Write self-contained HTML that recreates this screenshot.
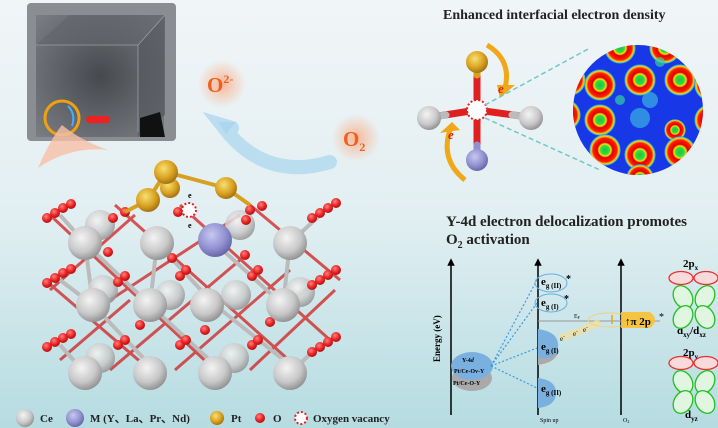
<!DOCTYPE html>
<html><head><meta charset="utf-8"><style>
html,body{margin:0;padding:0;width:718px;height:428px;overflow:hidden}
svg{display:block}
text{font-family:"Liberation Serif",serif}
</style></head><body>
<svg width="718" height="428" viewBox="0 0 718 428" xmlns="http://www.w3.org/2000/svg">
<defs>
<linearGradient id="bg" x1="0" y1="0" x2="0" y2="1">
<stop offset="0" stop-color="#f1f5f7"/><stop offset="0.5" stop-color="#e2eff2"/><stop offset="1" stop-color="#b5dce1"/></linearGradient>
<radialGradient id="ce" cx="0.4" cy="0.35" r="0.7"><stop offset="0" stop-color="#f4f4f4"/><stop offset="0.6" stop-color="#c8c8c8"/><stop offset="1" stop-color="#8a8a8a"/></radialGradient>
<radialGradient id="m" cx="0.4" cy="0.35" r="0.7"><stop offset="0" stop-color="#c8c8f0"/><stop offset="0.6" stop-color="#9090d0"/><stop offset="1" stop-color="#6060a0"/></radialGradient>
<radialGradient id="pt" cx="0.4" cy="0.35" r="0.7"><stop offset="0" stop-color="#f8e070"/><stop offset="0.6" stop-color="#d8a020"/><stop offset="1" stop-color="#9a6a10"/></radialGradient>
<radialGradient id="o" cx="0.4" cy="0.35" r="0.7"><stop offset="0" stop-color="#ff8080"/><stop offset="0.6" stop-color="#e82020"/><stop offset="1" stop-color="#a01010"/></radialGradient>
<radialGradient id="glow" cx="0.5" cy="0.5" r="0.5"><stop offset="0" stop-color="#f8b898"/><stop offset="1" stop-color="#f8b898" stop-opacity="0"/></radialGradient>
<radialGradient id="tem" cx="0.5" cy="0.5" r="0.7"><stop offset="0" stop-color="#46494e"/><stop offset="1" stop-color="#7a7e83"/></radialGradient>
<radialGradient id="ring" cx="0.5" cy="0.5" r="0.5"><stop offset="0" stop-color="#20c040"/><stop offset="0.28" stop-color="#30e040"/><stop offset="0.38" stop-color="#ffe000"/><stop offset="0.48" stop-color="#e00000"/><stop offset="0.75" stop-color="#ff2000"/><stop offset="0.85" stop-color="#ffd000"/><stop offset="0.95" stop-color="#30c0e0"/><stop offset="1" stop-color="#1030e0" stop-opacity="0"/></radialGradient>
<clipPath id="cc"><circle cx="638" cy="110" r="65"/></clipPath>
<marker id="ah" viewBox="0 0 10 10" refX="5" refY="5" markerWidth="5" markerHeight="5" orient="auto"><path d="M0,0L10,5L0,10z" fill="#000"/></marker>
</defs>
<rect width="718" height="428" fill="url(#bg)"/>

<!-- TEM image -->
<rect x="27" y="3" width="149" height="138" rx="4" fill="#8a8e92"/>
<rect x="36" y="15" width="128" height="122" fill="url(#tem)"/>
<polygon points="36,45 70,15 165,15 138,45" fill="#60646a" opacity="0.6"/>
<polygon points="138,45 165,15 165,115 138,137" fill="#55595e" opacity="0.7"/>
<polyline points="36,45 138,45 138,132" fill="none" stroke="#9a9ea2" stroke-width="0.8"/>
<polyline points="138,45 165,15" fill="none" stroke="#9a9ea2" stroke-width="0.8"/>
<polygon points="140,118 160,112 165,137 140,137" fill="#111"/>
<circle cx="62" cy="118" r="17" fill="none" stroke="#f0a010" stroke-width="3"/>
<path d="M68,106 Q76,114 72,126" fill="none" stroke="#40b0ff" stroke-width="2"/>
<rect x="86" y="116" width="24" height="7" rx="3.5" fill="#f02020"/>
<path d="M38,168 Q50,140 62,125 Q80,140 108,150 Q70,146 38,168z" fill="#f8c0a8" opacity="0.8"/>

<!-- glows -->
<circle cx="222" cy="84" r="24" fill="url(#glow)"/>
<text x="207" y="92" font-size="21" fill="#f06020" font-weight="bold">O<tspan font-size="12" dy="-9">2-</tspan></text>
<circle cx="356" cy="138" r="24" fill="url(#glow)"/>
<text x="343" y="146" font-size="21" fill="#f06020" font-weight="bold">O<tspan font-size="12" dy="5">2</tspan></text>
<path d="M330,162 Q270,180 230,135 L222,125 L232,128" fill="none" stroke="#a8d4ee" stroke-width="14" stroke-linecap="round" opacity="0.7"/>
<polygon points="218,122 236,122 226,134" fill="#a8d4ee" opacity="0.8"/>

<!-- lattice bonds -->
<g stroke="#d02020" stroke-width="3" opacity="0.75">
<line x1="50" y1="215" x2="215" y2="370"/><line x1="115" y1="205" x2="300" y2="370"/><line x1="180" y1="205" x2="330" y2="340"/>
<line x1="45" y1="280" x2="150" y2="370"/><line x1="250" y1="205" x2="340" y2="280"/>
<line x1="60" y1="360" x2="130" y2="300"/><line x1="110" y1="370" x2="240" y2="260"/><line x1="175" y1="370" x2="290" y2="270"/><line x1="250" y1="370" x2="335" y2="290"/>
<line x1="50" y1="290" x2="135" y2="215"/><line x1="110" y1="300" x2="240" y2="215"/>
</g>
<g stroke="#bbb" stroke-width="4">
<line x1="85" y1="243" x2="150" y2="305"/><line x1="157" y1="243" x2="215" y2="305"/><line x1="215" y1="243" x2="283" y2="305"/>
<line x1="93" y1="305" x2="150" y2="365"/><line x1="150" y1="305" x2="215" y2="365"/><line x1="215" y1="305" x2="290" y2="365"/>
<line x1="85" y1="243" x2="60" y2="215"/><line x1="290" y1="243" x2="320" y2="215"/><line x1="93" y1="305" x2="60" y2="280"/><line x1="283" y1="305" x2="320" y2="280"/>
<line x1="85" y1="373" x2="60" y2="345"/><line x1="290" y1="373" x2="320" y2="345"/>
<line x1="93" y1="305" x2="85" y2="243"/><line x1="150" y1="305" x2="157" y2="243"/><line x1="283" y1="305" x2="290" y2="243"/>
</g>
<!-- back Ce -->
<g fill="url(#ce)" opacity="0.85">
<circle cx="100" cy="225" r="15"/><circle cx="240" cy="225" r="15"/><circle cx="103" cy="290" r="15"/><circle cx="170" cy="295" r="15"/><circle cx="236" cy="295" r="15"/><circle cx="300" cy="292" r="15"/>
<circle cx="100" cy="358" r="15"/><circle cx="234" cy="358" r="15"/>
</g>
<!-- O atoms -->
<g fill="url(#o)">
<circle cx="47" cy="218" r="5"/><circle cx="55" cy="213" r="5"/><circle cx="63" cy="208" r="5"/><circle cx="71" cy="204" r="5"/>
<circle cx="47" cy="283" r="5"/><circle cx="55" cy="278" r="5"/><circle cx="63" cy="273" r="5"/><circle cx="71" cy="269" r="5"/>
<circle cx="47" cy="347" r="5"/><circle cx="55" cy="342" r="5"/><circle cx="63" cy="338" r="5"/><circle cx="71" cy="334" r="5"/>
<circle cx="312" cy="218" r="5"/><circle cx="320" cy="213" r="5"/><circle cx="328" cy="208" r="5"/><circle cx="336" cy="203" r="5"/>
<circle cx="312" cy="285" r="5"/><circle cx="320" cy="280" r="5"/><circle cx="328" cy="275" r="5"/><circle cx="336" cy="270" r="5"/>
<circle cx="312" cy="352" r="5"/><circle cx="320" cy="347" r="5"/><circle cx="328" cy="342" r="5"/><circle cx="336" cy="337" r="5"/>
<circle cx="113" cy="218" r="5"/><circle cx="125" cy="212" r="5"/><circle cx="178" cy="212" r="5"/><circle cx="250" cy="210" r="5"/><circle cx="262" cy="206" r="5"/><circle cx="246" cy="220" r="5"/>
<circle cx="118" cy="282" r="5"/><circle cx="125" cy="276" r="5"/><circle cx="180" cy="276" r="5"/><circle cx="186" cy="270" r="5"/><circle cx="252" cy="276" r="5"/><circle cx="258" cy="270" r="5"/>
<circle cx="118" cy="345" r="5"/><circle cx="125" cy="340" r="5"/><circle cx="180" cy="345" r="5"/><circle cx="186" cy="340" r="5"/><circle cx="252" cy="345" r="5"/><circle cx="258" cy="340" r="5"/>
<circle cx="108" cy="252" r="5"/><circle cx="172" cy="258" r="5"/><circle cx="245" cy="255" r="5"/><circle cx="140" cy="325" r="5"/><circle cx="205" cy="330" r="5"/><circle cx="270" cy="322" r="5"/>
</g>
<!-- front Ce -->
<g fill="url(#ce)">
<circle cx="85" cy="243" r="17"/><circle cx="157" cy="243" r="17"/><circle cx="290" cy="243" r="17"/>
<circle cx="93" cy="305" r="17"/><circle cx="150" cy="305" r="17"/><circle cx="207" cy="305" r="17"/><circle cx="283" cy="305" r="17"/>
<circle cx="85" cy="373" r="17"/><circle cx="150" cy="373" r="17"/><circle cx="215" cy="373" r="17"/><circle cx="290" cy="373" r="17"/>
</g>
<circle cx="215" cy="240" r="17" fill="url(#m)"/>
<!-- Pt cluster -->
<g stroke="#d8a020" stroke-width="4"><line x1="166" y1="172" x2="226" y2="188"/><line x1="148" y1="200" x2="166" y2="172"/><line x1="226" y1="188" x2="250" y2="205"/><line x1="148" y1="200" x2="125" y2="212"/></g>
<circle cx="170" cy="188" r="10" fill="url(#pt)"/>
<circle cx="166" cy="172" r="12" fill="url(#pt)"/>
<circle cx="226" cy="188" r="11" fill="url(#pt)"/>
<circle cx="148" cy="200" r="12" fill="url(#pt)"/>
<circle cx="189" cy="210" r="7" fill="#fff" stroke="#e02020" stroke-width="2" stroke-dasharray="2 2"/>
<text x="188" y="198" font-size="8" font-weight="bold">e</text>
<text x="188" y="228" font-size="8" font-weight="bold">e</text>

<!-- legend -->
<g font-size="11" font-weight="bold" fill="#222">
<circle cx="25" cy="418" r="9" fill="url(#ce)"/><text x="40" y="422">Ce</text>
<circle cx="75" cy="418" r="9" fill="url(#m)"/><text x="90" y="422">M (Y、La、Pr、Nd)</text>
<circle cx="217" cy="418" r="7" fill="url(#pt)"/><text x="231" y="422">Pt</text>
<circle cx="260" cy="418" r="5" fill="url(#o)"/><text x="273" y="422">O</text>
<circle cx="301" cy="418" r="6" fill="#fff" stroke="#e02020" stroke-width="2" stroke-dasharray="2 2"/><text x="313" y="422">Oxygen vacancy</text>
</g>

<!-- top right -->
<text x="443" y="19" font-size="14" font-weight="bold" fill="#222">Enhanced interfacial electron density</text>
<g stroke-width="7" stroke-linecap="round">
<line x1="477" y1="110" x2="477" y2="63" stroke="#e02020"/><line x1="477" y1="110" x2="477" y2="160" stroke="#e02020"/>
<line x1="477" y1="110" x2="432" y2="117" stroke="#e02020"/><line x1="477" y1="110" x2="528" y2="117" stroke="#e02020"/>
<line x1="477" y1="75" x2="477" y2="62" stroke="#d8a020"/><line x1="477" y1="145" x2="477" y2="158" stroke="#9090d0"/>
<line x1="446" y1="115" x2="432" y2="117" stroke="#bbb"/><line x1="512" y1="115" x2="528" y2="117" stroke="#bbb"/>
</g>
<circle cx="477" cy="62" r="11" fill="url(#pt)"/>
<circle cx="477" cy="160" r="11" fill="url(#m)"/>
<circle cx="429" cy="118" r="12" fill="url(#ce)"/>
<circle cx="531" cy="118" r="12" fill="url(#ce)"/>
<circle cx="477" cy="110" r="10" fill="#fff" stroke="#e02020" stroke-width="2" stroke-dasharray="2 2"/>
<path d="M487,45 Q512,60 505,88" fill="none" stroke="#f0a818" stroke-width="5"/>
<polygon points="497,85 515,85 500,98" fill="#f0a818"/>
<path d="M465,180 Q440,160 450,130" fill="none" stroke="#f0a818" stroke-width="5"/>
<polygon points="440,133 460,130 452,122" fill="#f0a818"/>
<text x="498" y="93" font-size="13" fill="#e02020" font-weight="bold" font-style="italic">e</text>
<text x="448" y="139" font-size="13" fill="#e02020" font-weight="bold" font-style="italic">e</text>
<line x1="485" y1="105" x2="590" y2="48" stroke="#70c8c8" stroke-width="1.5" stroke-dasharray="5 3"/>
<line x1="485" y1="118" x2="600" y2="170" stroke="#70c8c8" stroke-width="1.5" stroke-dasharray="5 3"/>
<circle cx="638" cy="110" r="65" fill="#1838e8"/>
<g clip-path="url(#cc)">
<g fill="url(#ring)">
<circle cx="600" cy="85" r="16"/><circle cx="640" cy="80" r="16"/><circle cx="680" cy="80" r="16"/><circle cx="710" cy="85" r="16"/>
<circle cx="600" cy="120" r="16"/><circle cx="675" cy="130" r="11"/><circle cx="710" cy="120" r="16"/><circle cx="565" cy="115" r="16"/>
<circle cx="605" cy="150" r="16"/><circle cx="640" cy="155" r="16"/><circle cx="680" cy="152" r="16"/>
<circle cx="620" cy="48" r="16"/><circle cx="665" cy="48" r="16"/><circle cx="640" cy="178" r="14"/><circle cx="570" cy="80" r="16"/>
</g>
<circle cx="640" cy="118" r="10" fill="#40c8e0" opacity="0.6"/>
<circle cx="650" cy="100" r="8" fill="#40c8e0" opacity="0.6"/>
<circle cx="620" cy="100" r="5" fill="#30d0a0" opacity="0.7"/>
<circle cx="660" cy="62" r="5" fill="#30d0a0" opacity="0.7"/>
</g>

<!-- energy diagram -->
<text x="446" y="226" font-size="15" font-weight="bold" fill="#222">Y-4d electron delocalization promotes</text>
<text x="446" y="244" font-size="15" font-weight="bold" fill="#222">O<tspan font-size="10" dy="4">2</tspan><tspan dy="-4"> activation</tspan></text>
<g stroke="#000" stroke-width="1.5">
<line x1="451" y1="415" x2="451" y2="262" marker-end="url(#ah)"/>
<line x1="538" y1="415" x2="538" y2="262" marker-end="url(#ah)"/>
<line x1="621" y1="415" x2="621" y2="262" marker-end="url(#ah)"/>
</g>
<text transform="translate(440,362) rotate(-90)" font-size="9" font-weight="bold">Energy (eV)</text>
<ellipse cx="472" cy="378" rx="20" ry="13" fill="#aaa"/>
<ellipse cx="472" cy="366" rx="21" ry="14" fill="#7ab0e0"/>
<text x="462" y="362" font-size="6" font-weight="bold">Y-4<tspan font-style="italic">d</tspan></text>
<text x="454" y="373" font-size="6" font-weight="bold">Pt/Ce-Ov-Y</text>
<text x="453" y="385" font-size="6" font-weight="bold">Pt/Ce-O-Y</text>
<g stroke="#3a9ae0" stroke-width="1.2" stroke-dasharray="2 2" fill="none">
<line x1="491" y1="366" x2="537" y2="280"/><line x1="491" y1="366" x2="537" y2="303"/><line x1="491" y1="366" x2="537" y2="348"/><line x1="491" y1="366" x2="537" y2="388"/>
</g>
<ellipse cx="551" cy="283" rx="16" ry="9" fill="none" stroke="#6ab0e0"/>
<ellipse cx="551" cy="303" rx="16" ry="9" fill="none" stroke="#6ab0e0"/>
<path d="M538,335 Q558,338 558,350 Q558,362 538,365z" fill="#aaa"/>
<path d="M538,329 Q560,332 558,348 Q556,360 538,358z" fill="#7ab0e0"/>
<path d="M538,378 Q556,380 556,393 Q556,406 538,408z" fill="#7ab0e0"/>
<g font-size="11" font-weight="bold">
<text x="541" y="285">e<tspan font-size="7" dy="3">g (II)</tspan></text><text x="566" y="282" font-size="10">*</text>
<text x="541" y="306">e<tspan font-size="7" dy="3">g (I)</tspan></text><text x="564" y="302" font-size="10">*</text>
<text x="541" y="350">e<tspan font-size="7" dy="3">g (I)</tspan></text>
<text x="541" y="392">e<tspan font-size="7" dy="3">g (II)</tspan></text>
</g>
<line x1="538" y1="321" x2="660" y2="321" stroke="#999" stroke-width="1"/>
<text x="574" y="318" font-size="6">E<tspan font-size="4" dy="1">F</tspan></text>
<path d="M560,338 Q585,330 600,322" fill="none" stroke="#f0e0a0" stroke-width="7" opacity="0.8"/>
<text x="560" y="341" font-size="7">e<tspan font-size="5" dy="-3">-</tspan></text>
<text x="573" y="336" font-size="7">e<tspan font-size="5" dy="-3">-</tspan></text>
<text x="583" y="332" font-size="7">e<tspan font-size="5" dy="-3">-</tspan></text>
<ellipse cx="610" cy="320" rx="22" ry="7" fill="none" stroke="#f0d080"/>
<path d="M621,312 L650,312 Q660,320 650,328 L621,328z" fill="#f8c030" opacity="0.9"/>
<line x1="612" y1="324" x2="612" y2="315" stroke="#f0a010" stroke-width="1.5"/>
<text x="625" y="325" font-size="11" font-weight="bold">↑π 2p</text>
<text x="659" y="320" font-size="10">*</text>
<text x="540" y="422" font-size="6">Spin up</text>
<text x="623" y="422" font-size="6">O<tspan font-size="4" dy="1">2</tspan></text>

<!-- orbitals -->
<g font-size="11" font-weight="bold">
<text x="683" y="267">2p<tspan font-size="7" dy="3">x</tspan></text>
<text x="677" y="334">d<tspan font-size="7" dy="3">xy</tspan><tspan dy="-3">/d</tspan><tspan font-size="7" dy="3">xz</tspan></text>
<text x="683" y="356">2p<tspan font-size="7" dy="3">y</tspan></text>
<text x="685" y="418">d<tspan font-size="7" dy="3">yz</tspan></text>
</g>
<g fill="#f8dada" stroke="#e83030" stroke-width="1.3">
<ellipse cx="681" cy="278" rx="12" ry="6.5"/><ellipse cx="706" cy="278" rx="12" ry="6.5"/>
<ellipse cx="681" cy="363" rx="12" ry="6.5"/><ellipse cx="706" cy="363" rx="12" ry="6.5"/>
</g>
<g fill="#e0f6e0" stroke="#20c020" stroke-width="1.3">
<ellipse cx="683" cy="297" rx="9" ry="12" transform="rotate(-30 683 297)"/><ellipse cx="705" cy="297" rx="9" ry="12" transform="rotate(30 705 297)"/>
<ellipse cx="683" cy="317" rx="9" ry="12" transform="rotate(30 683 317)"/><ellipse cx="705" cy="317" rx="9" ry="12" transform="rotate(-30 705 317)"/>
<ellipse cx="683" cy="382" rx="9" ry="12" transform="rotate(-30 683 382)"/><ellipse cx="705" cy="382" rx="9" ry="12" transform="rotate(30 705 382)"/>
<ellipse cx="683" cy="402" rx="9" ry="12" transform="rotate(30 683 402)"/><ellipse cx="705" cy="402" rx="9" ry="12" transform="rotate(-30 705 402)"/>
</g>
</svg>
</body></html>
